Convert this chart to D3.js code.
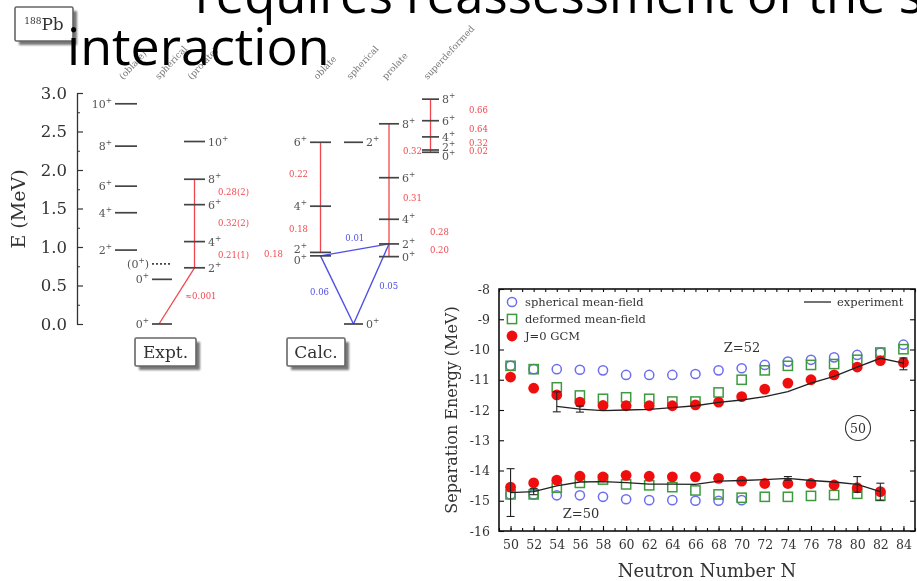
<!DOCTYPE html>
<html>
<head>
<meta charset="utf-8">
<script src="https://cdn.jsdelivr.net/npm/d3@7"></script>
<style>
  html, body { margin: 0; padding: 0; background: #fff; }
  svg { display: block; }
</style>
</head>
<body>
<svg id="slide" width="917" height="581"></svg>
<script>
// ---------------- separation energies (MeV) ----------------
const neutronN      = [50,52,54,56,58,60,62,64,66,68,70,72,74,76,78,80,82,84];
const neutronTicks  = [50,52,54,56,58,60,62,64,66,68,70,72,74,76,78,80,82,84];
const energyTicks   = [-8,-9,-10,-11,-12,-13,-14,-15,-16];

// Z = 52 chain
const z52Spherical = [-10.54,-10.65,-10.65,-10.67,-10.69,-10.84,-10.84,-10.84,-10.81,-10.69,-10.62,-10.51,-10.40,-10.34,-10.26,-10.18,-10.10,-9.84];
const z52Deformed  = [-10.54,-10.65,-11.25,-11.52,-11.63,-11.58,-11.63,-11.72,-11.72,-11.42,-11.00,-10.69,-10.54,-10.51,-10.48,-10.34,-10.10,-9.99];
const z52Gcm       = [-10.91,-11.28,-11.50,-11.74,-11.85,-11.86,-11.86,-11.86,-11.83,-11.74,-11.56,-11.31,-11.11,-11.00,-10.84,-10.58,-10.37,-10.43];
const z52ExpN      = [54,56,58,60,62,64,66,68,70,72,74,76,78,80,82,84];
const z52Exp       = [-11.88,-11.97,-12.02,-12.00,-11.98,-11.92,-11.86,-11.75,-11.67,-11.56,-11.39,-11.11,-10.89,-10.58,-10.29,-10.45];
const z52ExpErrUp  = [0.48,0.10,0,0,0,0,0,0,0,0,0,0,0,0,0,0.17];
const z52ExpErrDn  = [0.18,0.10,0,0,0,0,0,0,0,0,0,0,0,0,0,0.22];

// Z = 50 chain
const z50N         = [50,52,54,56,58,60,62,64,66,68,70,72,74,76,78,80,82];
const z50SphN      = [50,52,54,56,58,60,62,64,66,68,70];
const z50Spherical = [-14.79,-14.79,-14.82,-14.82,-14.87,-14.95,-14.98,-14.98,-15.00,-15.00,-14.98];
const z50Deformed  = [-14.79,-14.79,-14.57,-14.41,-14.30,-14.46,-14.49,-14.55,-14.66,-14.79,-14.90,-14.87,-14.87,-14.84,-14.81,-14.77,-14.84];
const z50Gcm       = [-14.55,-14.41,-14.32,-14.19,-14.21,-14.16,-14.19,-14.21,-14.21,-14.26,-14.35,-14.43,-14.43,-14.43,-14.48,-14.57,-14.70];
const z50Exp       = [-14.73,-14.70,-14.51,-14.38,-14.37,-14.40,-14.45,-14.45,-14.46,-14.35,-14.33,-14.30,-14.26,-14.33,-14.38,-14.46,-14.70];
const z50ExpErr    = [0.79,0.10,0,0,0,0,0,0,0,0,0,0,0.06,0,0,0.26,0.28];

// ---------------- 188Pb level scheme (E in MeV) ----------------
const energyAxisTicks = [0,0.5,1.0,1.5,2.0,2.5,3.0];
// [spin, energy]
const exptOblate     = [["2",0.96],["4",1.445],["6",1.79],["8",2.31],["10",2.86]];
const exptSpherical  = [["0",0],["0",0.58]];
const exptTentative  = [["(0",0.78]];
const exptProlate    = [["2",0.73],["4",1.07],["6",1.55],["8",1.88],["10",2.37]];
const calcOblate     = [["0",0.885],["2",0.93],["4",1.53],["6",2.36]];
const calcSpherical  = [["0",0],["2",2.36]];
const calcProlate    = [["0",0.875],["2",1.04],["4",1.36],["6",1.90],["8",2.60]];
const calcSuperdef   = [["0",2.23],["2",2.26],["4",2.43],["6",2.64],["8",2.92]];
// in-band E2 transitions [E_initial, E_final, B(E2) label]
const exptProlateE2  = [[1.88,1.55,"0.28(2)"],[1.55,1.07,"0.32(2)"],[1.07,0.73,"0.21(1)"]];
const exptInterE2    = [[0.73,0,"\u22480.001"]];
const calcOblateE2   = [[2.36,1.53,"0.22"],[1.53,0.93,"0.18"]];
const calcOblate20   = ["0.18"];
const calcProlateE2  = [[2.60,1.90,"0.32"],[1.90,1.36,"0.31"],[1.36,1.04,"0.28"],[1.04,0.875,"0.20"]];
const calcSuperdefE2 = [[2.92,2.64,"0.66"],[2.64,2.43,"0.64"],[2.43,2.26,"0.32"],[2.26,2.23,"0.02"]];
// E0/E2 links between the 0+ states [from, to, label]
const calcInterband  = [["oblate0","prolate2","0.01"],["oblate0","ground","0.06"],["prolate2","ground","0.05"]];
const exptHeaders    = ["(oblate)","spherical","(prolate)"];
const calcHeaders    = ["oblate","spherical","prolate","superdeformed"];

// ---------------- drawing ----------------
const svg = d3.select("#slide");
const defs = svg.append("defs");
defs.append("filter").attr("id","soft")
  .attr("x","-5%").attr("y","-5%").attr("width","110%").attr("height","110%")
  .append("feGaussianBlur").attr("stdDeviation",0.55);
defs.append("filter").attr("id","shade")
  .append("feGaussianBlur").attr("stdDeviation",1.2);

const SERIF = "'DejaVu Serif', 'Liberation Serif', serif";
const RED = "#f0474f", BLUE = "#4f4fe8", GREYTXT = "#555";

// ===== level scheme =====
const lv = svg.append("g").attr("filter","url(#soft)");
const yE = d3.scaleLinear().domain([0,3]).range([324,93]);

lv.append("g").attr("transform","translate(77,0)")
  .call(d3.axisLeft(yE).tickValues(energyAxisTicks).tickFormat(d3.format(".1f"))
        .tickSizeInner(-6).tickSizeOuter(0).tickPadding(10))
  .call(g => g.select(".domain").attr("stroke","#333").attr("stroke-width",1.3))
  .call(g => g.selectAll(".tick line").attr("stroke","#333").attr("stroke-width",1.2))
  .call(g => g.selectAll("text").attr("font-family",SERIF).attr("font-size",16.5).attr("fill","#333"));
lv.append("g").attr("transform","translate(77,0)")
  .call(d3.axisLeft(yE).tickValues(d3.range(0.25,3,0.5)).tickFormat("").tickSizeInner(-3).tickSizeOuter(0))
  .call(g => g.select(".domain").remove())
  .call(g => g.selectAll(".tick line").attr("stroke","#333"));
lv.append("text").attr("transform","translate(25,209) rotate(-90)")
  .attr("text-anchor","middle").attr("font-family",SERIF).attr("font-size",19).attr("fill","#333")
  .text("E (MeV)");

// column layout
const cols = {
  exptA: {x1:115, x2:137, side:"left"},
  exptB: {x1:152, x2:172, side:"left"},
  exptC: {x1:184, x2:205, side:"right"},
  calcA: {x1:310, x2:331, side:"left"},
  calcB: {x1:344, x2:363, side:"right"},
  calcC: {x1:379, x2:399, side:"right"},
  calcD: {x1:422, x2:439, side:"right"}
};
const cx = c => (cols[c].x1 + cols[c].x2) / 2;

function spinLabel(g, x, y, spin, anchor) {
  const t = g.append("text").attr("x",x).attr("y",y+4).attr("text-anchor",anchor)
    .attr("font-family",SERIF).attr("font-size",11).attr("fill",GREYTXT);
  t.append("tspan").text(spin);
  t.append("tspan").attr("dy",-5).attr("font-size",7.5).text("+");
  if (spin.startsWith("(")) t.append("tspan").attr("dy",5).text(")");
}

function drawLevels(levels, key, dashed) {
  const c = cols[key];
  const ys = levels.map(d => yE(d[1]));
  levels.forEach((d,i) => {
    const y = ys[i];
    lv.append("line").attr("x1",c.x1).attr("x2",c.x2).attr("y1",y).attr("y2",y)
      .attr("stroke","#444").attr("stroke-width",1.7)
      .attr("stroke-dasharray", dashed ? "2,2" : null);
    // separate labels of nearly degenerate levels
    let off = 0;
    if (i > 0 && y - ys[i-1] > -7 && y - ys[i-1] < 0) off = -3;
    if (i < levels.length-1 && ys[i+1] - y > -7 && ys[i+1] - y < 0) off = 4;
    if (c.side === "left") spinLabel(lv, c.x1 - 3, y + off, d[0], "end");
    else spinLabel(lv, c.x2 + 3, y + off, d[0], "start");
  });
}

function redBand(trans, key, labelX, anchor) {
  const x = cx(key);
  const top = d3.max(trans, d => d[0]), bot = d3.min(trans, d => d[1]);
  lv.append("line").attr("x1",x).attr("x2",x).attr("y1",yE(top)).attr("y2",yE(bot))
    .attr("stroke",RED).attr("stroke-width",1.3);
  trans.forEach(d => {
    const lx = typeof labelX === "function" ? labelX(d) : labelX;
    lv.append("text").attr("x",lx).attr("y",yE((d[0]+d[1])/2)+3).attr("text-anchor",anchor)
      .attr("font-family",SERIF).attr("font-size",8.5).attr("fill",RED).text(d[2]);
  });
}

// experimental scheme
redBand(exptProlateE2, "exptC", 218, "start");
lv.append("line").attr("x1",cx("exptC")).attr("y1",yE(exptInterE2[0][0]))
  .attr("x2",cx("exptB")-3).attr("y2",yE(exptInterE2[0][1]))
  .attr("stroke",RED).attr("stroke-width",1.3);
lv.append("text").attr("x",185).attr("y",yE((exptInterE2[0][0]+exptInterE2[0][1])/2)+3)
  .attr("font-family",SERIF).attr("font-size",8.5).attr("fill",RED).text(exptInterE2[0][2]);
drawLevels(exptOblate, "exptA");
drawLevels(exptSpherical, "exptB");
drawLevels(exptTentative, "exptB", true);
drawLevels(exptProlate, "exptC");

// calculated scheme
redBand(calcOblateE2, "calcA", 308, "end");
lv.append("text").attr("x",283).attr("y",yE(0.905)+3).attr("text-anchor","end")
  .attr("font-family",SERIF).attr("font-size",8.5).attr("fill",RED).text(calcOblate20[0]);
redBand(calcProlateE2, "calcC", d => (d[0] >= 1.9 ? 403 : 430), "start");
redBand(calcSuperdefE2, "calcD", 469, "start");

const nodes = {
  oblate0:  [cx("calcA"), yE(calcOblate[0][1])],
  prolate2: [cx("calcC"), yE(calcProlate[1][1])],
  ground:   [cx("calcB"), yE(calcSpherical[0][1])]
};
const blueLabelPos = {
  "0.01": [0, -12, "middle"], "0.06": [-8, 2, "end"], "0.05": [8, 2, "start"]
};
calcInterband.forEach(d => {
  const a = nodes[d[0]], b = nodes[d[1]];
  lv.append("line").attr("x1",a[0]).attr("y1",a[1]).attr("x2",b[0]).attr("y2",b[1])
    .attr("stroke",BLUE).attr("stroke-width",1.4);
  const p = blueLabelPos[d[2]];
  lv.append("text").attr("x",(a[0]+b[0])/2 + p[0]).attr("y",(a[1]+b[1])/2 + p[1] + 3)
    .attr("text-anchor",p[2]).attr("font-family",SERIF).attr("font-size",8.5)
    .attr("fill",BLUE).text(d[2]);
});
drawLevels(calcOblate, "calcA");
drawLevels(calcSpherical, "calcB");
drawLevels(calcProlate, "calcC");
drawLevels(calcSuperdef, "calcD");

// rotated shape headers
const headerCols = [["exptA","exptB","exptC"], ["calcA","calcB","calcC","calcD"]];
[exptHeaders, calcHeaders].forEach((hs, k) => {
  hs.forEach((h, i) => {
    lv.append("text").attr("transform",`translate(${cx(headerCols[k][i]) - 3},80) rotate(-47)`)
      .attr("font-family",SERIF).attr("font-size",9).attr("fill","#777").text(h);
  });
});

// framed captions
function caption(x, y, w, h, build) {
  const g = svg.append("g").attr("filter","url(#soft)");
  g.append("rect").attr("x",x+4).attr("y",y+4).attr("width",w).attr("height",h)
    .attr("fill","#777").attr("filter","url(#shade)");
  g.append("rect").attr("x",x).attr("y",y).attr("width",w).attr("height",h)
    .attr("fill","#fff").attr("stroke","#666").attr("stroke-width",1.6).attr("rx",1.5);
  build(g.append("text").attr("x",x+w/2).attr("y",y+h/2+6).attr("text-anchor","middle")
    .attr("font-family",SERIF).attr("font-size",17).attr("fill","#333"));
}
caption(15, 7, 58, 34, t => {
  t.append("tspan").attr("font-size",9).attr("dy",-6).text("188");
  t.append("tspan").attr("dy",6).text("Pb");
});
caption(135, 338, 61, 28, t => t.text("Expt."));
caption(287, 338, 58, 28, t => t.text("Calc."));

// ===== separation energy plot =====
const sp = svg.append("g").attr("filter","url(#soft)");
const x = d3.scaleLinear().domain([49,85]).range([499,915]);
const y = d3.scaleLinear().domain([-8,-16]).range([289,531]);

sp.append("rect").attr("x",499).attr("y",289).attr("width",416).attr("height",242)
  .attr("fill","none").attr("stroke","#111").attr("stroke-width",1.6);

const styleAxis = g => {
  g.select(".domain").remove();
  g.selectAll(".tick line").attr("stroke","#111").attr("stroke-width",1.1);
  g.selectAll("text").attr("font-family",SERIF).attr("font-size",12.5).attr("fill","#333");
};
const minorN = d3.range(49,86,1);
sp.append("g").attr("transform","translate(0,531)")
  .call(d3.axisBottom(x).tickValues(neutronTicks).tickSizeInner(-5).tickSizeOuter(0).tickPadding(9))
  .call(styleAxis);
sp.append("g").attr("transform","translate(0,531)")
  .call(d3.axisBottom(x).tickValues(minorN).tickFormat("").tickSizeInner(-3).tickSizeOuter(0))
  .call(styleAxis);
sp.append("g").attr("transform","translate(0,289)")
  .call(d3.axisTop(x).tickValues(minorN).tickFormat("").tickSizeInner(-3).tickSizeOuter(0))
  .call(styleAxis);
sp.append("g").attr("transform","translate(499,0)")
  .call(d3.axisLeft(y).tickValues(energyTicks).tickFormat(d => String(d).replace("\u2212","-"))
        .tickSizeInner(-5).tickSizeOuter(0).tickPadding(9))
  .call(styleAxis);
sp.append("g").attr("transform","translate(915,0)")
  .call(d3.axisRight(y).tickValues(energyTicks).tickFormat("").tickSizeInner(-5).tickSizeOuter(0))
  .call(styleAxis);

sp.append("text").attr("x",707).attr("y",577).attr("text-anchor","middle")
  .attr("font-family",SERIF).attr("font-size",18).attr("fill","#333").text("Neutron Number N");
sp.append("text").attr("transform","translate(457,410) rotate(-90)").attr("text-anchor","middle")
  .attr("font-family",SERIF).attr("font-size",16).attr("fill","#333").text("Separation Energy (MeV)");

const pts = (ns, vs) => ns.map((n,i) => [n, vs[i]]);
function openCircles(data) {
  sp.append("g").selectAll("circle").data(data).join("circle")
    .attr("cx",d => x(d[0])).attr("cy",d => y(d[1])).attr("r",4.6)
    .attr("fill","none").attr("stroke","#6d6df0").attr("stroke-width",1.5);
}
function openSquares(data) {
  sp.append("g").selectAll("rect").data(data).join("rect")
    .attr("x",d => x(d[0])-4.6).attr("y",d => y(d[1])-4.6).attr("width",9.2).attr("height",9.2)
    .attr("fill","none").attr("stroke","#3d9a3d").attr("stroke-width",1.5);
}
function dots(data) {
  sp.append("g").selectAll("circle").data(data).join("circle")
    .attr("cx",d => x(d[0])).attr("cy",d => y(d[1])).attr("r",5.4).attr("fill","#ef1010");
}
function experiment(ns, vs, up, dn) {
  const data = ns.map((n,i) => ({n, v: vs[i], up: up[i], dn: dn[i]}));
  sp.append("path").datum(data)
    .attr("d", d3.line().x(d => x(d.n)).y(d => y(d.v)))
    .attr("fill","none").attr("stroke","#222").attr("stroke-width",1.3);
  const eb = sp.append("g").attr("stroke","#222").attr("stroke-width",1.1);
  data.filter(d => d.up > 0 || d.dn > 0).forEach(d => {
    const xx = x(d.n), y1 = y(d.v + d.up), y2 = y(d.v - d.dn);
    eb.append("line").attr("x1",xx).attr("x2",xx).attr("y1",y1).attr("y2",y2);
    eb.append("line").attr("x1",xx-4).attr("x2",xx+4).attr("y1",y1).attr("y2",y1);
    eb.append("line").attr("x1",xx-4).attr("x2",xx+4).attr("y1",y2).attr("y2",y2);
  });
}

openCircles(pts(neutronN, z52Spherical));
openCircles(pts(z50SphN, z50Spherical));
openSquares(pts(neutronN, z52Deformed));
openSquares(pts(z50N, z50Deformed));
dots(pts(neutronN, z52Gcm));
dots(pts(z50N, z50Gcm));
experiment(z52ExpN, z52Exp, z52ExpErrUp, z52ExpErrDn);
experiment(z50N, z50Exp, z50ExpErr, z50ExpErr);

// legend
const lg = sp.append("g").attr("font-family",SERIF).attr("font-size",11.5).attr("fill","#333");
lg.append("circle").attr("cx",512).attr("cy",302).attr("r",4.6).attr("fill","none")
  .attr("stroke","#6d6df0").attr("stroke-width",1.5);
lg.append("rect").attr("x",507.4).attr("y",314.4).attr("width",9.2).attr("height",9.2)
  .attr("fill","none").attr("stroke","#3d9a3d").attr("stroke-width",1.5);
lg.append("circle").attr("cx",512).attr("cy",336).attr("r",5.4).attr("fill","#ef1010");
lg.append("text").attr("x",525).attr("y",306).text("spherical mean-field");
lg.append("text").attr("x",525).attr("y",323).text("deformed mean-field");
lg.append("text").attr("x",525).attr("y",340).text("J=0 GCM");
lg.append("line").attr("x1",804).attr("x2",831).attr("y1",302).attr("y2",302)
  .attr("stroke","#222").attr("stroke-width",1.3);
lg.append("text").attr("x",837).attr("y",306).text("experiment");

sp.append("text").attr("x",742).attr("y",352).attr("text-anchor","middle")
  .attr("font-family",SERIF).attr("font-size",13).attr("fill","#333").text("Z=52");
sp.append("text").attr("x",581).attr("y",518).attr("text-anchor","middle")
  .attr("font-family",SERIF).attr("font-size",13).attr("fill","#333").text("Z=50");
sp.append("circle").attr("cx",858).attr("cy",428).attr("r",12.5)
  .attr("fill","none").attr("stroke","#333").attr("stroke-width",1.1);
sp.append("text").attr("x",858).attr("y",433).attr("text-anchor","middle")
  .attr("font-family",SERIF).attr("font-size",12.5).attr("fill","#333").text("50");

// ===== slide title (runs over the figures and past the right edge) =====
const title = svg.append("g").attr("font-family","'Open Sans', 'Noto Sans', sans-serif")
  .attr("font-size",52).attr("fill","#000");
title.append("text").attr("x",195).attr("y",13)
  .attr("textLength",728).attr("lengthAdjust","spacingAndGlyphs")
  .text("requires reassessment of the s");
title.append("text").attr("x",67).attr("y",65).text("interaction");
</script>
</body>
</html>
